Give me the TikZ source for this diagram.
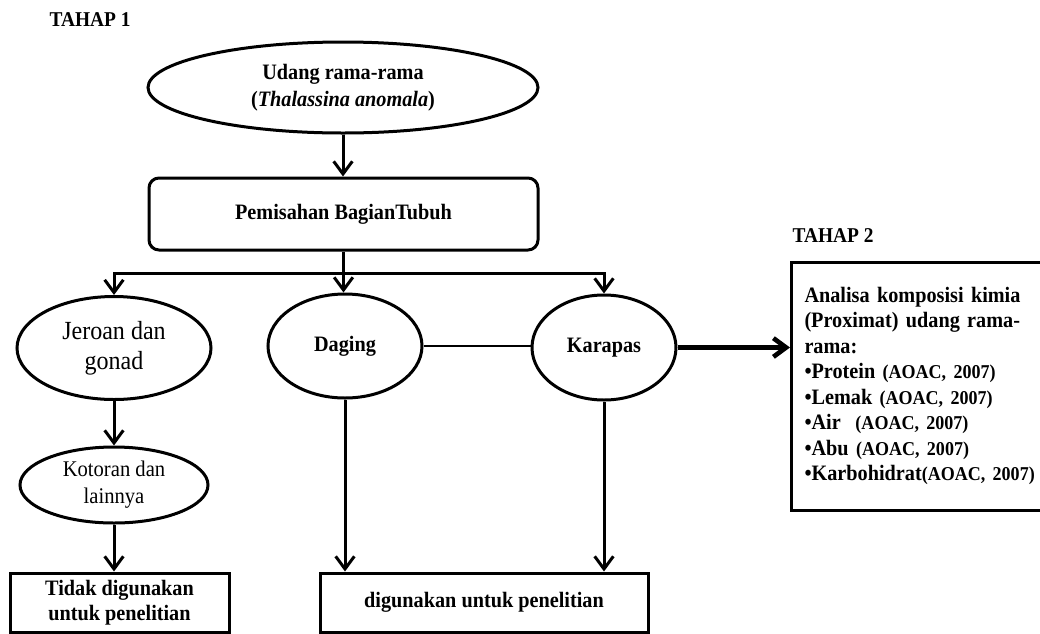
\documentclass[tikz,border=0pt]{standalone}
\usepackage{fontspec}
\setmainfont{Liberation Serif}[FakeStretch=0.92]
\usetikzlibrary{shapes.geometric,arrows.meta}
\begin{document}
\begin{tikzpicture}[x=0.75pt,y=-0.75pt,
  line width=2.25pt,
  arr/.style={-{Straight Barb[length=9.5pt,width=14pt]}},
  ell/.style={draw,ellipse,inner sep=0pt,align=center},
  boxb/.style={draw,rectangle,inner sep=0pt,align=center},
  bfont/.style={font=\bfseries\fontsize{16.5pt}{20.25pt}\selectfont},
  title/.style={font=\bfseries\fontsize{15.8pt}{18pt}\selectfont,inner sep=0pt}]
\useasboundingbox (0,0) rectangle (1040,633);

\node[title] (t1) at (90,20) {TAHAP 1};
\node[title] (t2) at (833,236) {TAHAP 2};

\node[ell,bfont,minimum width=292.5pt,minimum height=68.25pt] (udang) at (343,87.5) {Udang rama-rama\\(\textit{Thalassina anomala})};
\node[boxb,rounded corners=7.5pt,bfont,minimum width=291.75pt,minimum height=54pt] (pem) at (343.5,214) {Pemisahan BagianTubuh};

\node[ell,font=\fontsize{19.6pt}{22.5pt}\selectfont,minimum width=145.5pt,minimum height=77.25pt] (jer) at (114,348) {Jeroan dan\\gonad};
\node[ell,bfont,minimum width=115.5pt,minimum height=78pt] (dag) at (345,346) {Daging};
\node[ell,bfont,minimum width=108pt,minimum height=78.75pt] (kar) at (604,347.5) {Karapas};
\node[ell,font=\fontsize{16.8pt}{20.25pt}\selectfont,minimum width=141pt,minimum height=57pt] (kot) at (114,485) {Kotoran dan\\lainnya};

\node[boxb,font=\bfseries\fontsize{16.5pt}{18.75pt}\selectfont,minimum width=164.25pt,minimum height=44.25pt] (tid) at (119.5,602.5) {Tidak digunakan\\untuk penelitian};
\node[boxb,bfont,minimum width=246pt,minimum height=44.25pt] (dig) at (484,602.5) {digunakan untuk penelitian};

\node[draw,rectangle,anchor=west,inner xsep=9.75pt,inner ysep=0pt,text width=180pt,minimum height=186pt,align=left,
  font=\bfseries\fontsize{16.5pt}{19.1pt}\selectfont] (ana) at (790,386)
  {\makebox[159pt][s]{Analisa komposisi kimia}\\
   \makebox[159pt][s]{(Proximat) udang rama-}\\
   rama:\\
   •Protein {\fontsize{14.7pt}{19.1pt}\selectfont(AOAC, 2007)}\\
   •Lemak {\fontsize{14.7pt}{19.1pt}\selectfont(AOAC, 2007)}\\
   •Air \ {\fontsize{14.7pt}{19.1pt}\selectfont(AOAC, 2007)}\\
   •Abu {\fontsize{14.7pt}{19.1pt}\selectfont(AOAC, 2007)}\\
   •Karbohidrat{\fontsize{14.7pt}{19.1pt}\selectfont(AOAC, 2007)}};

\coordinate (bus) at (343.5,273);
\draw[arr] (udang.south) -- (udang.south |- pem.north);
\draw[arr] (pem.south) -- (pem.south |- dag.north);
\draw[arr] (bus) -| (jer.north);
\draw[arr] (bus) -| (kar.north);
\draw[line width=1.5pt] (dag.east) -- (dag.east -| kar.west);
\draw[arr,line width=3.5pt] (kar.east) -- (kar.east -| ana.west);
\draw[arr] (jer.south) -- (kot.north);
\draw[arr] (kot.south) -- (kot.south |- tid.north);
\draw[arr] (dag.south) -- (dag.south |- dig.north);
\draw[arr] (kar.south) -- (kar.south |- dig.north);
\end{tikzpicture}
\end{document}
